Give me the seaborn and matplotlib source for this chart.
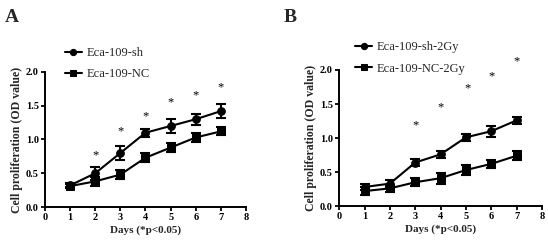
import matplotlib
matplotlib.use("Agg")
import matplotlib.pyplot as plt
import seaborn as sns
import pandas as pd
import numpy as np

days = [1, 2, 3, 4, 5, 6, 7]

# Panel A
a_sh = [0.32, 0.50, 0.80, 1.10, 1.20, 1.30, 1.42]
a_sh_err = [0.03, 0.10, 0.10, 0.06, 0.11, 0.08, 0.10]
a_nc = [0.31, 0.38, 0.48, 0.73, 0.88, 1.03, 1.12]
a_nc_err = [0.03, 0.07, 0.07, 0.07, 0.07, 0.06, 0.06]
a_star_days = [2, 3, 4, 5, 6, 7]
a_star_y = [0.77, 1.12, 1.35, 1.55, 1.66, 1.77]

# Panel B
b_sh = [0.28, 0.33, 0.64, 0.76, 1.01, 1.10, 1.26]
b_sh_err = [0.05, 0.05, 0.05, 0.05, 0.05, 0.08, 0.05]
b_nc = [0.22, 0.26, 0.35, 0.41, 0.53, 0.62, 0.74]
b_nc_err = [0.06, 0.05, 0.06, 0.08, 0.07, 0.06, 0.07]
b_star_days = [3, 4, 5.05, 6, 7]
b_star_y = [1.19, 1.45, 1.73, 1.90, 2.13]

x_ticks = [0, 1, 2, 3, 4, 5, 6, 7, 8]
y_ticks = [0.0, 0.5, 1.0, 1.5, 2.0]

sns.set_style("ticks")
plt.rcParams['font.family'] = ['Liberation Serif', 'DejaVu Serif']

fig = plt.figure(figsize=(5.48, 2.43), dpi=100)
axA = fig.add_axes([0.082, 0.148, 0.367, 0.556])
axB = fig.add_axes([0.619, 0.152, 0.370, 0.560])


def panel(ax, sh, sh_err, nc, nc_err, names, star_x, star_y, legend_anchor):
    df = pd.DataFrame({
        "Day": days * 2,
        "OD": sh + nc,
        "Group": [names[0]] * len(days) + [names[1]] * len(days),
    })
    sns.lineplot(data=df, x="Day", y="OD", hue="Group", style="Group",
                 markers={names[0]: "o", names[1]: "s"}, dashes=False,
                 palette={names[0]: "black", names[1]: "black"},
                 markersize=5.5, linewidth=1.5, ax=ax, legend=True,
                 markeredgecolor="black")
    ax.errorbar(days, sh, yerr=sh_err, fmt="none", ecolor="black",
                elinewidth=1.5, capsize=3.5, capthick=1.5)
    ax.errorbar(days, nc, yerr=nc_err, fmt="none", ecolor="black",
                elinewidth=1.5, capsize=3.5, capthick=1.5)
    for sx, sy in zip(star_x, star_y):
        ax.text(sx, sy, "*", ha="center", va="center", fontsize=9,
                color="black", clip_on=False)
    ax.set_xlim(0, 8)
    ax.set_ylim(0, 2.0)
    ax.set_xticks(x_ticks)
    ax.set_yticks(y_ticks)
    ax.set_yticklabels([f"{v:.1f}" for v in y_ticks])
    for lab in ax.get_xticklabels() + ax.get_yticklabels():
        lab.set_fontweight("bold")
        lab.set_fontsize(7.5)
    ax.tick_params(axis="both", direction="out", length=3, width=1.3, pad=1.5,
                   colors="black")
    for s in ["left", "bottom"]:
        ax.spines[s].set_linewidth(1.4)
        ax.spines[s].set_color("black")
    sns.despine(ax=ax)
    ax.set_xlabel("Days (*p<0.05)", fontsize=8, fontweight="bold", labelpad=2)
    ax.set_ylabel("Cell proliferation (OD value)", fontsize=8.5, fontweight="bold",
                  labelpad=2)
    leg = ax.legend(loc="upper left", bbox_to_anchor=legend_anchor,
                    frameon=False, fontsize=9, handlelength=1.35,
                    labelspacing=0.75, handletextpad=0.35, borderaxespad=0,
                    borderpad=0)
    for h in leg.legend_handles:
        h.set_linewidth(1.5)
        h.set_markersize(4.5)


panel(axA, a_sh, a_sh_err, a_nc, a_nc_err, ["Eca-109-sh", "Eca-109-NC"],
      a_star_days, a_star_y, (0.10, 1.185))
panel(axB, b_sh, b_sh_err, b_nc, b_nc_err, ["Eca-109-sh-2Gy", "Eca-109-NC-2Gy"],
      b_star_days, b_star_y, (0.08, 1.21))

fig.text(0.008, 0.965, "A", fontsize=14, fontweight="bold", va="top")
fig.text(0.518, 0.965, "B", fontsize=14, fontweight="bold", va="top")

fig.savefig("out.png", dpi=100)
